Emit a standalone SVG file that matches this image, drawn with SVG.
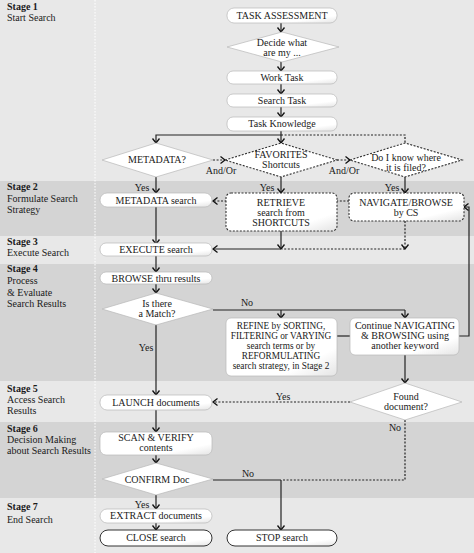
<svg xmlns="http://www.w3.org/2000/svg" width="474" height="553" viewBox="0 0 474 553">
<style>
.lt{fill:#e8e8e8}.dk{fill:#d4d4d4}
text{font-family:"Liberation Serif","Times New Roman",serif;font-size:10px;fill:#1a1a1a}
.st{font-weight:bold}
.c{text-anchor:middle}
.sm{font-size:9.3px}
.n{fill:url(#g);stroke:#b8b8b8;stroke-width:0.7}
.nd{fill:url(#g);stroke:#333;stroke-width:1.1;stroke-dasharray:2 1.5}
.nb{fill:url(#g);stroke:#333;stroke-width:1}
.ln{fill:none;stroke:#222;stroke-width:1.2}
.dl{fill:none;stroke:#222;stroke-width:1.2;stroke-dasharray:2 1.6}
.ar{marker-end:url(#ah)}
</style>
<defs>
<linearGradient id="g" x1="0" y1="0" x2="1" y2="1">
<stop offset="0" stop-color="#ffffff"/>
<stop offset="0.75" stop-color="#ffffff"/>
<stop offset="1" stop-color="#e4e4e4"/>
</linearGradient>
<marker id="ah" markerUnits="userSpaceOnUse" markerWidth="12" markerHeight="12" viewBox="-6 -6 12 12" refX="0" refY="0" orient="auto">
<path d="M-4.5,-3.5 L0,0 L-4.5,3.5" fill="none" stroke="#111" stroke-width="1.3"/>
</marker>
</defs>
<g id="background">
<rect x="0" y="0" width="474" height="181" class="lt"/>
<rect x="0" y="181" width="474" height="55" class="dk"/>
<rect x="0" y="236" width="474" height="28" class="lt"/>
<rect x="0" y="264" width="474" height="117" class="dk"/>
<rect x="0" y="381" width="474" height="41" class="lt"/>
<rect x="0" y="422" width="474" height="76" class="dk"/>
<rect x="0" y="498" width="474" height="55" class="lt"/>
<line x1="95" y1="0" x2="95" y2="553" stroke="#ffffff" stroke-width="1" stroke-dasharray="1.5 1.5"/>
</g>
<g id="stage-labels">
<text x="7" y="10" class="st">Stage 1</text><text x="7" y="21">Start Search</text>
<text x="7" y="190" class="st">Stage 2</text><text x="7" y="202">Formulate Search</text><text x="7" y="213">Strategy</text>
<text x="7" y="245" class="st">Stage 3</text><text x="7" y="256">Execute Search</text>
<text x="7" y="272" class="st">Stage 4</text><text x="7" y="284">Process</text><text x="7" y="296">&amp; Evaluate</text><text x="7" y="307">Search Results</text>
<text x="7" y="392" class="st">Stage 5</text><text x="7" y="403">Access Search</text><text x="7" y="414">Results</text>
<text x="7" y="432" class="st">Stage 6</text><text x="7" y="443">Decision Making</text><text x="7" y="454">about Search Results</text>
<text x="7" y="510" class="st">Stage 7</text><text x="7" y="523">End Search</text>
</g>
<g id="connectors">
<path class="ln ar" d="M281,23 V32"/>
<path class="ln ar" d="M281,62 V71"/>
<path class="ln ar" d="M281,84 V94"/>
<path class="ln ar" d="M281,107 V117"/>
<path class="ln ar" d="M281,131 V143"/>
<path class="ln ar" d="M281,135 H156 V143"/>
<path class="dl" d="M281,135 H405 V143"/>
<path class="dl ar" d="M213,160 H225"/>
<path class="dl ar" d="M337,160 H350"/>
<path class="ln ar" d="M156,177 V193"/>
<path class="ln ar" d="M281,177 V193"/>
<path class="ln ar" d="M405,177 V193"/>
<path class="dl ar" d="M349,201 H213"/>
<path class="ln ar" d="M156,207 V244"/>
<path class="ln ar" d="M281,231 V249"/>
<path class="ln ar" d="M281,249 H213"/>
<path class="dl ar" d="M405,221 V249"/>
<path class="dl" d="M405,249 H282"/>
<path class="ln ar" d="M156,256 V272"/>
<path class="ln ar" d="M156,284 V293"/>
<path class="ln" d="M213,310 H405"/>
<path class="ln ar" d="M281,310 V318"/>
<path class="ln ar" d="M405,310 V318"/>
<path class="ln ar" d="M156,324 V395"/>
<path class="ln" d="M337,336 H350"/>
<path class="ln ar" d="M459,336 H469 V207 H464"/>
<path class="ln ar" d="M405,355 V383"/>
<path class="dl ar" d="M350,402 H213"/>
<path class="dl" d="M405,420 V480 H282"/>
<path class="ln" d="M213,480 H281"/>
<path class="ln ar" d="M281,480 V530"/>
<path class="ln ar" d="M156,410 V432"/>
<path class="ln ar" d="M156,455 V463"/>
<path class="ln ar" d="M156,495 V509"/>
<path class="ln ar" d="M156,523 V530"/>
<text x="142" y="191" class="c">Yes</text>
<text x="267" y="191" class="c">Yes</text>
<text x="392" y="191" class="c">Yes</text>
<text x="221" y="174" class="c">And/Or</text>
<text x="344" y="174" class="c">And/Or</text>
<text x="247" y="306" class="c">No</text>
<text x="146" y="351" class="c">Yes</text>
<text x="283" y="400" class="c">Yes</text>
<text x="395" y="431" class="c">No</text>
<text x="248" y="477" class="c">No</text>
<text x="142" y="508" class="c">Yes</text>
</g>
<g id="task-assessment"><rect x="227" y="8" width="110" height="15" rx="7" class="n"/><text x="282" y="19" class="c">TASK ASSESSMENT</text></g>
<g id="decide"><polygon points="227,47 282,32 339,47 282,62" class="n"/><text x="282" y="46" class="c">Decide what</text><text x="282" y="56" class="c">are  my ...</text></g>
<g id="work-task"><rect x="227" y="71" width="110" height="13" rx="6" class="n"/><text x="282" y="81" class="c">Work Task</text></g>
<g id="search-task"><rect x="227" y="94" width="110" height="13" rx="6" class="n"/><text x="282" y="104" class="c">Search Task</text></g>
<g id="task-knowledge"><rect x="227" y="117" width="110" height="14" rx="6" class="n"/><text x="282" y="127" class="c">Task Knowledge</text></g>
<g id="metadata-q"><polygon points="102,160 156,143 213,160 156,177" class="n"/><text x="157" y="163" class="c">METADATA?</text></g>
<g id="favorites"><polygon points="225,160 281,143 337,160 281,177" class="nd"/><text x="281" y="158" class="c">FAVORITES</text><text x="281" y="168" class="c">Shortcuts</text></g>
<g id="know-filed"><polygon points="350,160 405,143 462,160 405,177" class="nd"/><text x="406" y="161" class="c">Do I know where</text><text x="406" y="171" class="c">it is filed?</text></g>
<g id="metadata-search"><rect x="100" y="193" width="112" height="14" rx="7" class="n"/><text x="156" y="204" class="c">METADATA search</text></g>
<g id="retrieve"><rect x="226" y="193" width="111" height="38" rx="5" class="nd"/><text x="281" y="206" class="c">RETRIEVE</text><text x="281" y="216" class="c">search from</text><text x="281" y="226" class="c">SHORTCUTS</text></g>
<g id="navigate"><rect x="349" y="193" width="115" height="28" rx="5" class="nd"/><text x="406" y="206" class="c">NAVIGATE/BROWSE</text><text x="406" y="216" class="c">by CS</text></g>
<g id="execute"><rect x="100" y="243" width="112" height="13" rx="6" class="n"/><text x="156" y="253" class="c">EXECUTE search</text></g>
<g id="browse"><rect x="100" y="272" width="112" height="12" rx="6" class="n"/><text x="156" y="282" class="c">BROWSE thru results</text></g>
<g id="match"><polygon points="102,309 156,293 213,309 156,325" class="n"/><text x="157" y="307" class="c">Is there</text><text x="157" y="317" class="c">a Match?</text></g>
<g id="refine"><rect x="226" y="318" width="111" height="58" rx="5" class="n"/><text x="281" y="329" class="c sm">REFINE by SORTING,</text><text x="281" y="339" class="c sm">FILTERING or VARYING</text><text x="281" y="349" class="c sm">search terms or by</text><text x="281" y="359" class="c sm">REFORMULATING</text><text x="281" y="369" class="c sm">search strategy, in Stage 2</text></g>
<g id="continue"><rect x="350" y="318" width="109" height="37" rx="5" class="n"/><text x="405" y="329" class="c">Continue NAVIGATING</text><text x="405" y="339" class="c">&amp; BROWSING using</text><text x="405" y="349" class="c">another keyword</text></g>
<g id="launch"><rect x="100" y="395" width="112" height="15" rx="7" class="n"/><text x="156" y="406" class="c">LAUNCH documents</text></g>
<g id="found"><polygon points="350,402 405,383 462,402 405,420" class="n"/><text x="406" y="400" class="c">Found</text><text x="406" y="410" class="c">document?</text></g>
<g id="scan"><rect x="100" y="432" width="112" height="23" rx="6" class="n"/><text x="156" y="441" class="c">SCAN &amp; VERIFY</text><text x="156" y="451" class="c">contents</text></g>
<g id="confirm"><polygon points="102,479 156,463 213,479 156,495" class="n"/><text x="157" y="483" class="c">CONFIRM Doc</text></g>
<g id="extract"><rect x="100" y="509" width="112" height="14" rx="7" class="n"/><text x="156" y="519" class="c">EXTRACT documents</text></g>
<g id="close"><rect x="100" y="530" width="112" height="16" rx="8" class="nb"/><text x="156" y="541" class="c">CLOSE search</text></g>
<g id="stop"><rect x="227" y="530" width="110" height="16" rx="8" class="nb"/><text x="282" y="541" class="c">STOP search</text></g>
</svg>
